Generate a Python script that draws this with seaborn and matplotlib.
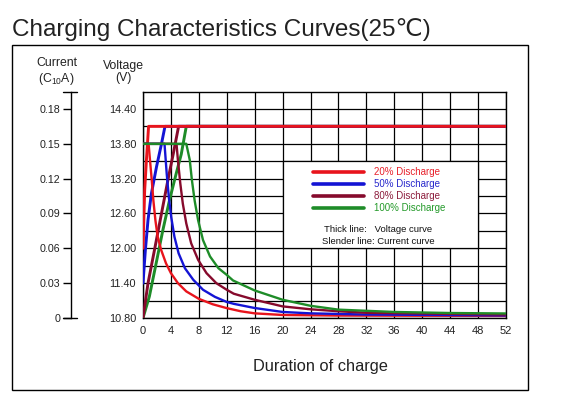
import matplotlib
matplotlib.use("Agg")
import matplotlib.pyplot as plt
import seaborn as sns
from matplotlib.lines import Line2D
from matplotlib.patches import Rectangle

sns.set_theme(style="white")
plt.rcParams["font.family"] = ["Liberation Sans", "DejaVu Sans"]
plt.rcParams["mathtext.fontset"] = "custom"
plt.rcParams["mathtext.rm"] = "Liberation Sans"
plt.rcParams["mathtext.default"] = "regular"

# colours for 20/50/80/100 % discharge
colors = ["#e8141c", "#1414d4", "#860a2c", "#1e8c28"]
text_colors = ["#e8202a", "#2828cc", "#8c1c3c", "#249a2a"]
labels = ["20% Discharge", "50% Discharge", "80% Discharge", "100% Discharge"]

# thick lines: voltage (V) vs hours
volt_h_20 = [0, 0.24, 0.48, 0.8, 52]
volt_20 = [12.0, 13.0, 13.5, 14.1, 14.1]
volt_h_50 = [0, 0.34, 0.72, 1.2, 1.93, 2.65, 3.15, 52]
volt_50 = [11.4, 11.97, 12.49, 12.94, 13.4, 13.8, 14.1, 14.1]
volt_h_80 = [0, 0.72, 1.69, 2.65, 3.61, 4.34, 5.1, 52]
volt_80 = [10.8, 11.4, 12.0, 12.6, 13.2, 13.63, 14.1, 14.1]
volt_h_100 = [0, 0.91, 1.88, 2.84, 3.8, 4.76, 5.48, 6.2, 52]
volt_100 = [10.8, 11.17, 11.74, 12.31, 12.83, 13.29, 13.62, 14.1, 14.1]

# slender lines: current (C10A) vs hours
cur_h_20 = [0, 0.8, 1.0, 1.25, 1.49, 1.78, 2.1, 2.6, 3.3, 4.0, 5.0, 6.2, 8.0, 10, 12, 14, 16, 20, 28, 52]
cur_20 = [0.15, 0.15, 0.136, 0.119, 0.101, 0.084, 0.070, 0.0586, 0.047, 0.0386, 0.030, 0.0229,
          0.0165, 0.0118, 0.0085, 0.0058, 0.0040, 0.0026, 0.0021, 0.0018]
cur_h_50 = [0, 3.08, 3.4, 3.7, 4.04, 4.5, 5.1, 6.0, 7.2, 8.6, 10.3, 12, 13, 16, 20, 24, 32, 52]
cur_50 = [0.15, 0.15, 0.124, 0.104, 0.087, 0.07, 0.0557, 0.0429, 0.0329, 0.0243, 0.0182, 0.0138,
          0.0122, 0.0086, 0.0052, 0.0040, 0.003, 0.0022]
cur_h_80 = [0, 4.8, 5.0, 5.34, 5.7, 6.2, 6.9, 7.9, 9.1, 10.5, 12, 13, 16, 20, 24, 28, 32, 52]
cur_80 = [0.15, 0.15, 0.136, 0.116, 0.0986, 0.0814, 0.0643, 0.05, 0.0386, 0.03, 0.0243, 0.0209,
          0.0157, 0.0100, 0.0075, 0.0058, 0.0045, 0.003]
cur_h_100 = [0, 6.2, 6.7, 7.0, 7.4, 7.9, 8.6, 9.6, 10.8, 12, 12.9, 16, 20, 24, 28, 36, 44, 52]
cur_100 = [0.15, 0.15, 0.136, 0.119, 0.101, 0.084, 0.067, 0.053, 0.0429, 0.0371, 0.0323, 0.0237,
           0.0157, 0.0105, 0.0072, 0.0052, 0.0043, 0.0039]

hour_ticks = list(range(0, 53, 4))
volt_ticks = [10.8, 11.4, 12.0, 12.6, 13.2, 13.8, 14.4]
volt_minor = [11.1, 11.7, 12.3, 12.9, 13.5, 14.1]
cur_ticks = [0, 0.03, 0.06, 0.09, 0.12, 0.15, 0.18]
cur_labels = ["0", "0.03", "0.06", "0.09", "0.12", "0.15", "0.18"]

W, H = 565, 408
fig = plt.figure(figsize=(W / 100, H / 100), dpi=100)
ax = fig.add_axes([143 / W, 90 / H, 363 / W, 226.5 / H])

volt_sets = [(volt_h_20, volt_20), (volt_h_50, volt_50), (volt_h_80, volt_80), (volt_h_100, volt_100)]
for i in [3, 2, 1, 0]:
    hx, vy = volt_sets[i]
    sns.lineplot(x=hx, y=vy, ax=ax, color=colors[i], lw=2.1, sort=False, zorder=3)

ax.set_xlim(0, 52)
ax.set_ylim(10.8, 14.7)
ax.set_xticks(hour_ticks)
ax.set_xticklabels([str(t) for t in hour_ticks])
ax.set_yticks(volt_ticks)
ax.set_yticklabels(["%.2f" % v for v in volt_ticks])
ax.set_yticks(volt_minor, minor=True)
ax.set_axisbelow(True)
ax.grid(True, which="both", axis="y", color="black", lw=0.9)
ax.grid(True, which="major", axis="x", color="black", lw=0.9)
ax.tick_params(axis="both", which="both", length=0, colors="#222222")
ax.tick_params(axis="y", labelsize=7.8, pad=5)
ax.tick_params(axis="x", labelsize=8, pad=6)
for s in ax.spines.values():
    s.set_color("black")
    s.set_linewidth(1)
ax.set_xlabel("")
ax.set_ylabel("")

# white legend panel
ax.add_patch(Rectangle((20, 12.0), 28, 1.5, facecolor="white", edgecolor="black", lw=0.9, zorder=2))
handles = [Line2D([], [], color=c, lw=2.6) for c in colors]
leg = ax.legend(handles, labels, loc="upper left", bbox_to_anchor=(24.4, 13.4),
                bbox_transform=ax.transData, frameon=False, fontsize=7,
                handlelength=5.2, handletextpad=1.0, labelspacing=0.22,
                borderpad=0, borderaxespad=0)
for t, c in zip(leg.get_texts(), text_colors):
    t.set_color(c)
leg.set_zorder(4)
ax.text(25.9, 12.32, "Thick line:   Voltage curve", fontsize=6.8, color="#111111", va="center", zorder=4)
ax.text(25.6, 12.12, "Slender line: Current curve", fontsize=6.8, color="#111111", va="center", zorder=4)

# current axis
ax2 = ax.twinx()
cur_sets = [(cur_h_20, cur_20), (cur_h_50, cur_50), (cur_h_80, cur_80), (cur_h_100, cur_100)]
for i in [0, 1, 2, 3]:
    hx, iy = cur_sets[i]
    sns.lineplot(x=hx, y=iy, ax=ax2, color=colors[i], lw=1.7, sort=False)
ax2.set_ylim(0, 0.195)
ax2.set_xlim(0, 52)
ax2.yaxis.set_ticks_position("left")
ax2.set_yticks(cur_ticks)
ax2.set_yticklabels(cur_labels)
ax2.set_ylabel("")
for k in ["right", "top", "bottom"]:
    ax2.spines[k].set_visible(False)
off = (71 - 143) / 363
ax2.spines["left"].set_position(("axes", off))
ax2.spines["left"].set_color("black")
ax2.spines["left"].set_linewidth(1)
ax2.tick_params(axis="y", direction="out", length=5.8, width=1, color="black",
                labelsize=7.7, pad=2, labelcolor="#222222")
for yy in [0, 1]:
    ax2.plot([off - 0.022, off + 0.017], [yy, yy], transform=ax2.transAxes,
             color="black", lw=1, clip_on=False)

# axis titles
fig.text(56.7 / W, 1 - 72 / H, "Current\n(C$_{10}$A)", ha="center", va="center",
         fontsize=8.8, color="#222222", linespacing=1.1)
fig.text(123 / W, 1 - 72 / H, "Voltage\n(V)", ha="center", va="center",
         fontsize=8.8, color="#222222", linespacing=1.1)
fig.text(320 / W, 1 - 367 / H, "Duration of charge", ha="center", va="center",
         fontsize=11.8, color="#222222")
fig.text(12 / W, 1 - 36 / H, "Charging Characteristics Curves(25\u2103)", ha="left",
         va="baseline", fontsize=17.5, color="#222222")

fig.patches.append(Rectangle((12 / W, 1 - 390 / H), 516 / W, 345 / H, transform=fig.transFigure,
                             fill=False, edgecolor="black", lw=1))

fig.savefig("out.png", dpi=100)
